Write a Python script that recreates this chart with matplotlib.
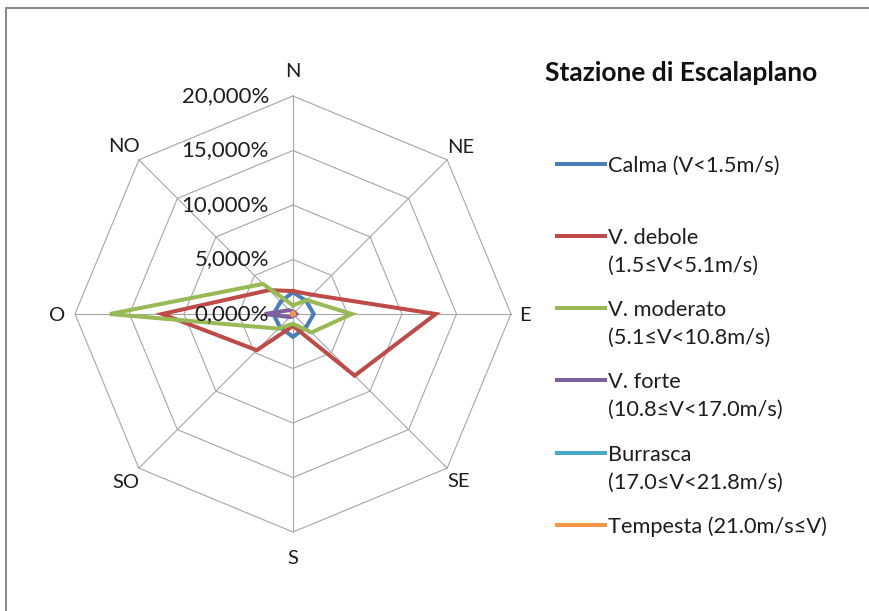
import numpy as np
import matplotlib
matplotlib.use("Agg")
from matplotlib import pyplot as plt
from matplotlib.lines import Line2D
from matplotlib.patches import Rectangle

# directions (clockwise from north)
directions = ['N', 'NE', 'E', 'SE', 'S', 'SO', 'O', 'NO']

# frequencies in % per direction
calma = [2.0, 1.7, 1.9, 1.7, 2.1, 1.7, 1.8, 1.6]
debole = [2.1, 2.5, 13.1, 8.0, 1.1, 4.7, 12.0, 3.1]
moderato = [0.8, 1.8, 5.4, 2.4, 0.9, 1.9, 16.8, 3.9]
forte = [0.2, 0.2, 0.3, 0.2, 0.2, 0.4, 2.6, 0.5]
burrasca = [0.05, 0.05, 0.05, 0.05, 0.05, 0.05, 0.25, 0.05]
tempesta = [0.1, 0.1, 0.1, 0.1, 0.1, 0.1, 0.1, 0.1]

series_names = ['Calma (V<1.5m/s)', 'V. debole\n(1.5≤V<5.1m/s)', 'V. moderato\n(5.1≤V<10.8m/s)',
                'V. forte\n(10.8≤V<17.0m/s)', 'Burrasca\n(17.0≤V<21.8m/s)', 'Tempesta (21.0m/s≤V)']
series_values = [calma, debole, moderato, forte, burrasca, tempesta]
series_colors = ['#4A7EBB', '#BE4B48', '#98B954', '#7D60A0', '#46AAC5', '#F79646']

ticks = [0, 5, 10, 15, 20]
tick_labels = ['0,000%', '5,000%', '10,000%', '15,000%', '20,000%']

title = 'Stazione di Escalaplano'

plt.rcParams['font.family'] = ['Lato', 'DejaVu Sans']
txt_col = '#1E1E1E'

W, H = 869, 611
fig = plt.figure(figsize=(W / 100, H / 100), dpi=100)
ax = fig.add_axes([0, 0, 1, 1])
ax.set_axis_off()

cx, cy, ppu = 293, 314, 10.9  # centre in px, px per percent
ax.set_xlim(-cx / ppu, (W - cx) / ppu)
ax.set_ylim(-(H - cy) / ppu, cy / ppu)

ang = np.deg2rad(90 - 45 * np.arange(len(directions)))
closed = np.append(ang, ang[0])

# grid: octagons + spokes
for t in ticks[1:]:
    ax.plot(t * np.cos(closed), t * np.sin(closed), color='#A6A6A6', lw=0.8, zorder=1)
for a in ang:
    ax.plot([0, ticks[-1] * np.cos(a)], [0, ticks[-1] * np.sin(a)], color='#A6A6A6', lw=0.8, zorder=1)

# series
for vals, col in zip(series_values, series_colors):
    v = np.append(vals, vals[0])
    ax.plot(v * np.cos(closed), v * np.sin(closed), color=col, lw=2.9,
            solid_joinstyle='miter', zorder=3)

# radial labels
for t, lab in zip(ticks, tick_labels):
    ax.text(-24 / ppu, t, lab, ha='right', va='center', fontsize=16, color=txt_col, zorder=4)

# direction labels
lab_r = [22.4, 21.8, 21.3, 21.5, 22.3, 21.7, 21.6, 21.9]
for a, r, d in zip(ang, lab_r, directions):
    ax.text(r * np.cos(a), r * np.sin(a) - 0.15, d, ha='center', va='center',
            fontsize=14.5, color=txt_col)

# title and legend (figure pixels)
def fx(x):
    return x / W

def fy(y):
    return 1 - y / H

fig.text(fx(545), fy(73), title, fontsize=19, fontweight='bold', va='center', ha='left',
         color='#111111')
for i, (name, col) in enumerate(zip(series_names, series_colors)):
    y = 163.5 + 72.3 * i
    fig.add_artist(Line2D([fx(557), fx(605)], [fy(y), fy(y)], color=col, lw=2.9))
    for j, part in enumerate(name.split('\n')):
        fig.text(fx(608), fy(y + 2 + 27.7 * j), part, fontsize=15.7, va='center', ha='left',
                 color=txt_col)

# outer frame
fig.add_artist(Rectangle((fx(6), fy(H + 5)), 1, fy(7.5) - fy(H + 5), transform=fig.transFigure,
                         fill=False, edgecolor='#8C8C8C', lw=1.5))

fig.savefig('out.png', dpi=100)
